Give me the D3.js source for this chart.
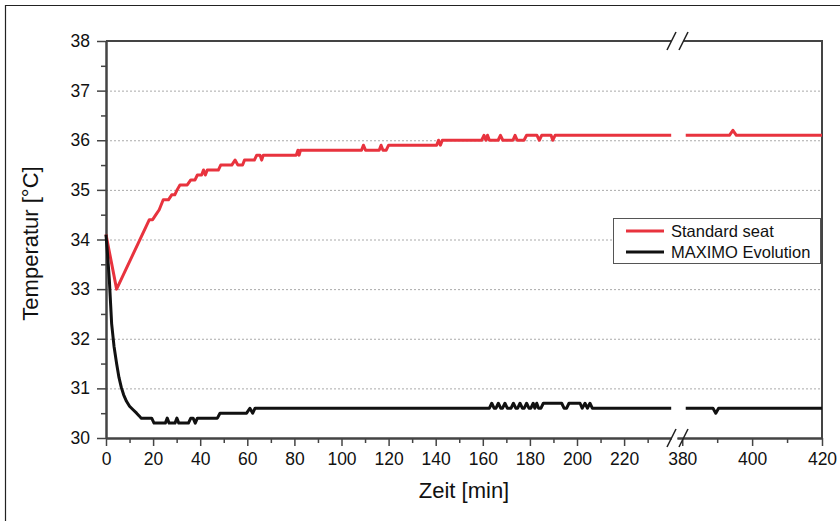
<!DOCTYPE html>
<html>
<head>
<meta charset="utf-8">
<script src="https://cdn.jsdelivr.net/npm/d3@7"></script>
<style>
body { margin: 0; background: #fff; }
svg { display: block; font-family: "Liberation Sans", Arial, sans-serif; }
</style>
</head>
<body>
<svg id="chart" width="840" height="521"></svg>
<script>
// Standard seat (red)
var stdTime = [0, 4.5, 18.4, 19.8, 21.2, 22.6, 24.3, 26.5, 27.9, 29.2, 30.2, 31.4, 34.5, 36, 37.8, 38.8, 40.6, 41.4, 42.2, 43, 47.7, 48.7, 53.4, 54.8, 56, 58, 58.8, 63, 64, 65.4, 66.1, 66.8, 80.8, 81.5, 82, 82.6, 108.5, 109.3, 110.2, 116, 116.8, 117.6, 119, 120, 140.4, 141.2, 142, 142.8, 159.5, 160.5, 161.3, 162, 162.8, 166.5, 167.5, 168.5, 172.8, 173.7, 174.6, 177.5, 178.6, 183, 184, 185, 189, 189.7, 190.7, 240, 381, 393.5, 394.5, 395.5, 420]
var stdTemp = [34.1, 33.0, 34.4, 34.4, 34.5, 34.6, 34.8, 34.8, 34.9, 34.9, 35.0, 35.1, 35.1, 35.2, 35.2, 35.3, 35.3, 35.4, 35.3, 35.4, 35.4, 35.5, 35.5, 35.6, 35.5, 35.5, 35.6, 35.6, 35.7, 35.7, 35.6, 35.7, 35.7, 35.8, 35.7, 35.8, 35.8, 35.9, 35.8, 35.8, 35.9, 35.8, 35.8, 35.9, 35.9, 36.0, 35.9, 36.0, 36.0, 36.1, 36.0, 36.1, 36.0, 36.0, 36.1, 36.0, 36.0, 36.1, 36.0, 36.0, 36.1, 36.1, 36.0, 36.1, 36.1, 36.0, 36.1, 36.1, 36.1, 36.1, 36.2, 36.1, 36.1]

// MAXIMO Evolution (black)
var maxTime = [0, 0.5, 1.4, 2.4, 3.4, 4.5, 5.5, 6.5, 7.5, 8.7, 10, 11.5, 13, 14.2, 14.9, 19.4, 20.4, 25.2, 26, 26.8, 29.3, 30.1, 30.9, 35, 36, 37, 37.9, 38.8, 47.3, 48.4, 59.7, 61.1, 62.3, 63.3, 162.8, 163.8, 164.8, 165.6, 166.6, 167.6, 168.4, 169.4, 170.4, 172, 173, 174, 174.8, 175.8, 176.8, 177.6, 178.6, 179.6, 180.4, 181.4, 182.1, 182.9, 183.7, 184.7, 185.7, 193.5, 194.5, 195.6, 196.6, 201.3, 202.2, 203.4, 204.4, 205.5, 206.5, 240, 381, 388.8, 389.6, 390.4, 420]
var maxTemp = [34.1, 33.8, 33.2, 32.3, 31.85, 31.5, 31.22, 31.02, 30.87, 30.74, 30.64, 30.57, 30.5, 30.44, 30.4, 30.4, 30.3, 30.3, 30.4, 30.3, 30.3, 30.4, 30.3, 30.3, 30.4, 30.4, 30.3, 30.4, 30.4, 30.5, 30.5, 30.6, 30.5, 30.6, 30.6, 30.7, 30.6, 30.6, 30.7, 30.6, 30.6, 30.7, 30.6, 30.6, 30.7, 30.6, 30.6, 30.7, 30.6, 30.6, 30.7, 30.6, 30.6, 30.7, 30.6, 30.7, 30.6, 30.6, 30.7, 30.7, 30.6, 30.6, 30.7, 30.7, 30.6, 30.7, 30.6, 30.7, 30.6, 30.6, 30.6, 30.6, 30.5, 30.6, 30.6]

var xTicksA = [0, 20, 40, 60, 80, 100, 120, 140, 160, 180, 200, 220]
var xMinorA = [10, 30, 50, 70, 90, 110, 130, 150, 170, 190, 210, 230]
var xTicksB = [380, 400, 420]
var xMinorB = [390, 410]
var yTicks = [30, 31, 32, 33, 34, 35, 36, 37, 38]
var yMinor = [30.5, 31.5, 32.5, 33.5, 34.5, 35.5, 36.5, 37.5]
var gridVals = [31, 32, 33, 34, 35, 36, 37]

var pLeft = 106, pRight = 822, pTop = 41, pBottom = 438

var svg = d3.select("#chart")

// outer frame (top and left visible)
svg.append("path").attr("d", "M5.5,521V5.5H840").attr("fill", "none").attr("stroke", "#222").attr("stroke-width", 1.2)

// two scales for the broken time axis
var xa = d3.scaleLinear().domain([0, 240]).range([pLeft, 671.2])
var xb = d3.scaleLinear().domain([378.5, 420]).range([677, pRight])
var y = d3.scaleLinear().domain([30, 38]).range([pBottom, pTop])

var xt = function(t) { return t <= 240 ? xa(t) : xb(t) }

//gridlines
svg.append("g").selectAll("line").data(gridVals).enter().append("line")
.attr("x1", pLeft).attr("x2", pRight)
.attr("y1", d => y(d) + 0.5).attr("y2", d => y(d) + 0.5)
.attr("stroke", "#aaa").attr("stroke-width", 1).attr("stroke-dasharray", "2,2")

// top and right border
svg.append("path")
.attr("d", "M" + pLeft + "," + pTop + "H671M683," + pTop + "H" + pRight + "V" + pBottom)
.attr("fill", "none").attr("stroke", "#444").attr("stroke-width", 2)

// axes
function styleAxis(g) {
  g.selectAll("path.domain").attr("stroke", "#444").attr("stroke-width", 2)
  g.selectAll(".tick line").attr("stroke", "#444").attr("stroke-width", 1.5)
  g.selectAll("text").attr("font-size", 17.5).attr("fill", "#111").attr("font-family", "Liberation Sans, Arial, sans-serif")
}

svg.append("g").attr("transform", "translate(0," + pBottom + ")")
.call(d3.axisBottom(xa).tickValues(xTicksA).tickSize(8).tickSizeOuter(0).tickPadding(7))
.call(styleAxis)
svg.append("g").attr("transform", "translate(0," + pBottom + ")")
.call(d3.axisBottom(xa).tickValues(xMinorA).tickSize(5).tickSizeOuter(0).tickFormat(""))
.call(styleAxis)
svg.append("g").attr("transform", "translate(0," + pBottom + ")")
.call(d3.axisBottom(xb).tickValues(xTicksB).tickSize(8).tickSizeOuter(0).tickPadding(7))
.call(styleAxis)
svg.append("g").attr("transform", "translate(0," + pBottom + ")")
.call(d3.axisBottom(xb).tickValues(xMinorB).tickSize(5).tickSizeOuter(0).tickFormat(""))
.call(styleAxis)

svg.append("g").attr("transform", "translate(" + pLeft + ",0)")
.call(d3.axisLeft(y).tickValues(yTicks).tickSize(9).tickSizeOuter(0).tickPadding(7))
.call(styleAxis)
svg.append("g").attr("transform", "translate(" + pLeft + ",0)")
.call(d3.axisLeft(y).tickValues(yMinor).tickSize(5).tickSizeOuter(0).tickFormat(""))
.call(styleAxis)

// break marks
;[pTop, pBottom].forEach(function(yy) {
  [667, 679].forEach(function(xx) {
    svg.append("line")
    .attr("x1", xx).attr("y1", yy + 9).attr("x2", xx + 9).attr("y2", yy - 9)
    .attr("stroke", "#222").attr("stroke-width", 1.6)
  })
})

// lines
var line = d3.line().x(d => xt(d[0])).y(d => y(d[1]))

function drawSeries(times, temps, color) {
  var pts = times.map((t, i) => [t, temps[i]])
  var segA = pts.filter(d => d[0] <= 240)
  var segB = pts.filter(d => d[0] >= 380)
  ;[segA, segB].forEach(function(seg) {
    svg.append("path").datum(seg)
    .attr("d", line)
    .attr("fill", "none")
    .attr("stroke", color)
    .attr("stroke-width", 3)
    .attr("stroke-linejoin", "round")
  })
}

drawSeries(stdTime, stdTemp, "#e8333e")
drawSeries(maxTime, maxTemp, "#111")

// legend
var lg = svg.append("g")
lg.append("rect").attr("x", 613.5).attr("y", 218.5).attr("width", 207).attr("height", 45)
.attr("fill", "#fff").attr("stroke", "#555").attr("stroke-width", 1)
var legendItems = [["Standard seat", "#e8333e"], ["MAXIMO Evolution", "#111"]]
legendItems.forEach(function(d, i) {
  lg.append("line").attr("x1", 626).attr("x2", 664)
  .attr("y1", 231 + i * 21).attr("y2", 231 + i * 21)
  .attr("stroke", d[1]).attr("stroke-width", 3)
  lg.append("text").attr("x", 671).attr("y", 237 + i * 21)
  .attr("font-size", 16.5).attr("fill", "#111").text(d[0])
})

// axis titles
svg.append("text").attr("x", (pLeft + pRight) / 2).attr("y", 498)
.attr("text-anchor", "middle").attr("font-size", 22).attr("fill", "#111")
.text("Zeit [min]")

svg.append("text").attr("transform", "translate(38," + ((pTop + pBottom) / 2 + 4) + ") rotate(-90)")
.attr("text-anchor", "middle").attr("font-size", 22).attr("fill", "#111")
.text("Temperatur [°C]")
</script>
</body>
</html>
